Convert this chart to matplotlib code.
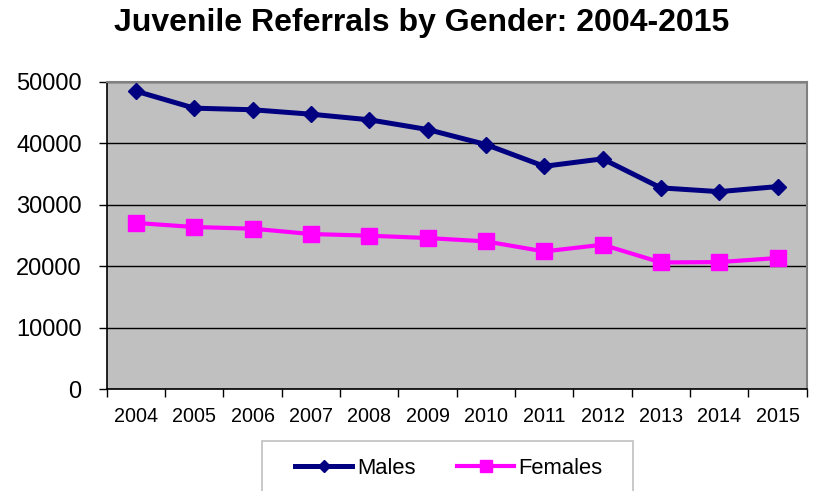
import matplotlib
matplotlib.use("Agg")
import matplotlib.pyplot as plt
from matplotlib.lines import Line2D
from matplotlib.patches import Rectangle

years = ["2004", "2005", "2006", "2007", "2008", "2009", "2010", "2011", "2012", "2013", "2014", "2015"]
males = [48470, 45700, 45440, 44720, 43810, 42230, 39790, 36250, 37460, 32740, 32130, 32950]
females = [27040, 26380, 26110, 25240, 24970, 24590, 24040, 22410, 23500, 20620, 20680, 21340]
yticks = [0, 10000, 20000, 30000, 40000, 50000]

plt.rcParams['font.family'] = ['Liberation Sans', 'DejaVu Sans']

W, H = 813, 491
fig = plt.figure(figsize=(W / 100, H / 100), dpi=100)
ax = fig.add_axes([106.7 / W, 1 - 389.3 / H, 700 / W, (389.3 - 81.7) / H])
ax.set_facecolor('#C0C0C0')

x = list(range(len(years)))
ax.plot(x, males, color='#000080', lw=3.6, marker='D', ms=8.5, mfc='#000080', mec='#000080', zorder=3)
ax.plot(x, females, color='#FF00FF', lw=3.0, marker='s', ms=12, mfc='#FF00FF', mec='#FF00FF', zorder=3)

ax.set_xlim(-0.5, len(years) - 0.5)
ax.set_ylim(0, 50000)
ax.set_yticks(yticks)
ax.set_yticklabels([str(v) for v in yticks], fontsize=17)
ax.yaxis.grid(True, color='black', lw=1.0)
ax.set_axisbelow(True)

ax.set_xticks(x)
ax.set_xticklabels(years, fontsize=14.2)
ax.set_xticks([i - 0.5 for i in range(len(years) + 1)], minor=True)
ax.tick_params(axis='x', which='major', length=0, pad=13)
ax.tick_params(axis='x', which='minor', length=6, width=1, color='black', direction='out')
ax.tick_params(axis='y', length=6, width=1, direction='out', pad=12)

for s in ['top', 'right']:
    ax.spines[s].set_color('#808080')
    ax.spines[s].set_linewidth(1.5)
for s in ['left', 'bottom']:
    ax.spines[s].set_color('black')
    ax.spines[s].set_linewidth(1.2)

fig.text(422 / W, 1 - 23 / H, "Juvenile Referrals by Gender: 2004-2015",
         ha='center', va='center', fontsize=23, fontweight='bold')

# legend frame
rect = Rectangle((262 / W, 1 - 500 / H), (633 - 262) / W, (500 - 441) / H,
                 transform=fig.transFigure, facecolor='white', edgecolor='#C0C0C0', lw=1.2)
fig.patches.append(rect)

handles = [
    Line2D([], [], color='#000080', lw=3.6, marker='D', ms=6, mfc='#000080', mec='#000080'),
    Line2D([], [], color='#FF00FF', lw=3.0, marker='s', ms=8, mfc='#FF00FF', mec='#FF00FF'),
]
fig.legend(handles, ['Males', 'Females'], loc='center', bbox_to_anchor=(449 / W, 1 - 468 / H),
           ncol=2, frameon=False, fontsize=15.8, handlelength=2.6, handletextpad=0.2,
           columnspacing=1.9, borderpad=0.0)

fig.savefig('out.png', dpi=100)
